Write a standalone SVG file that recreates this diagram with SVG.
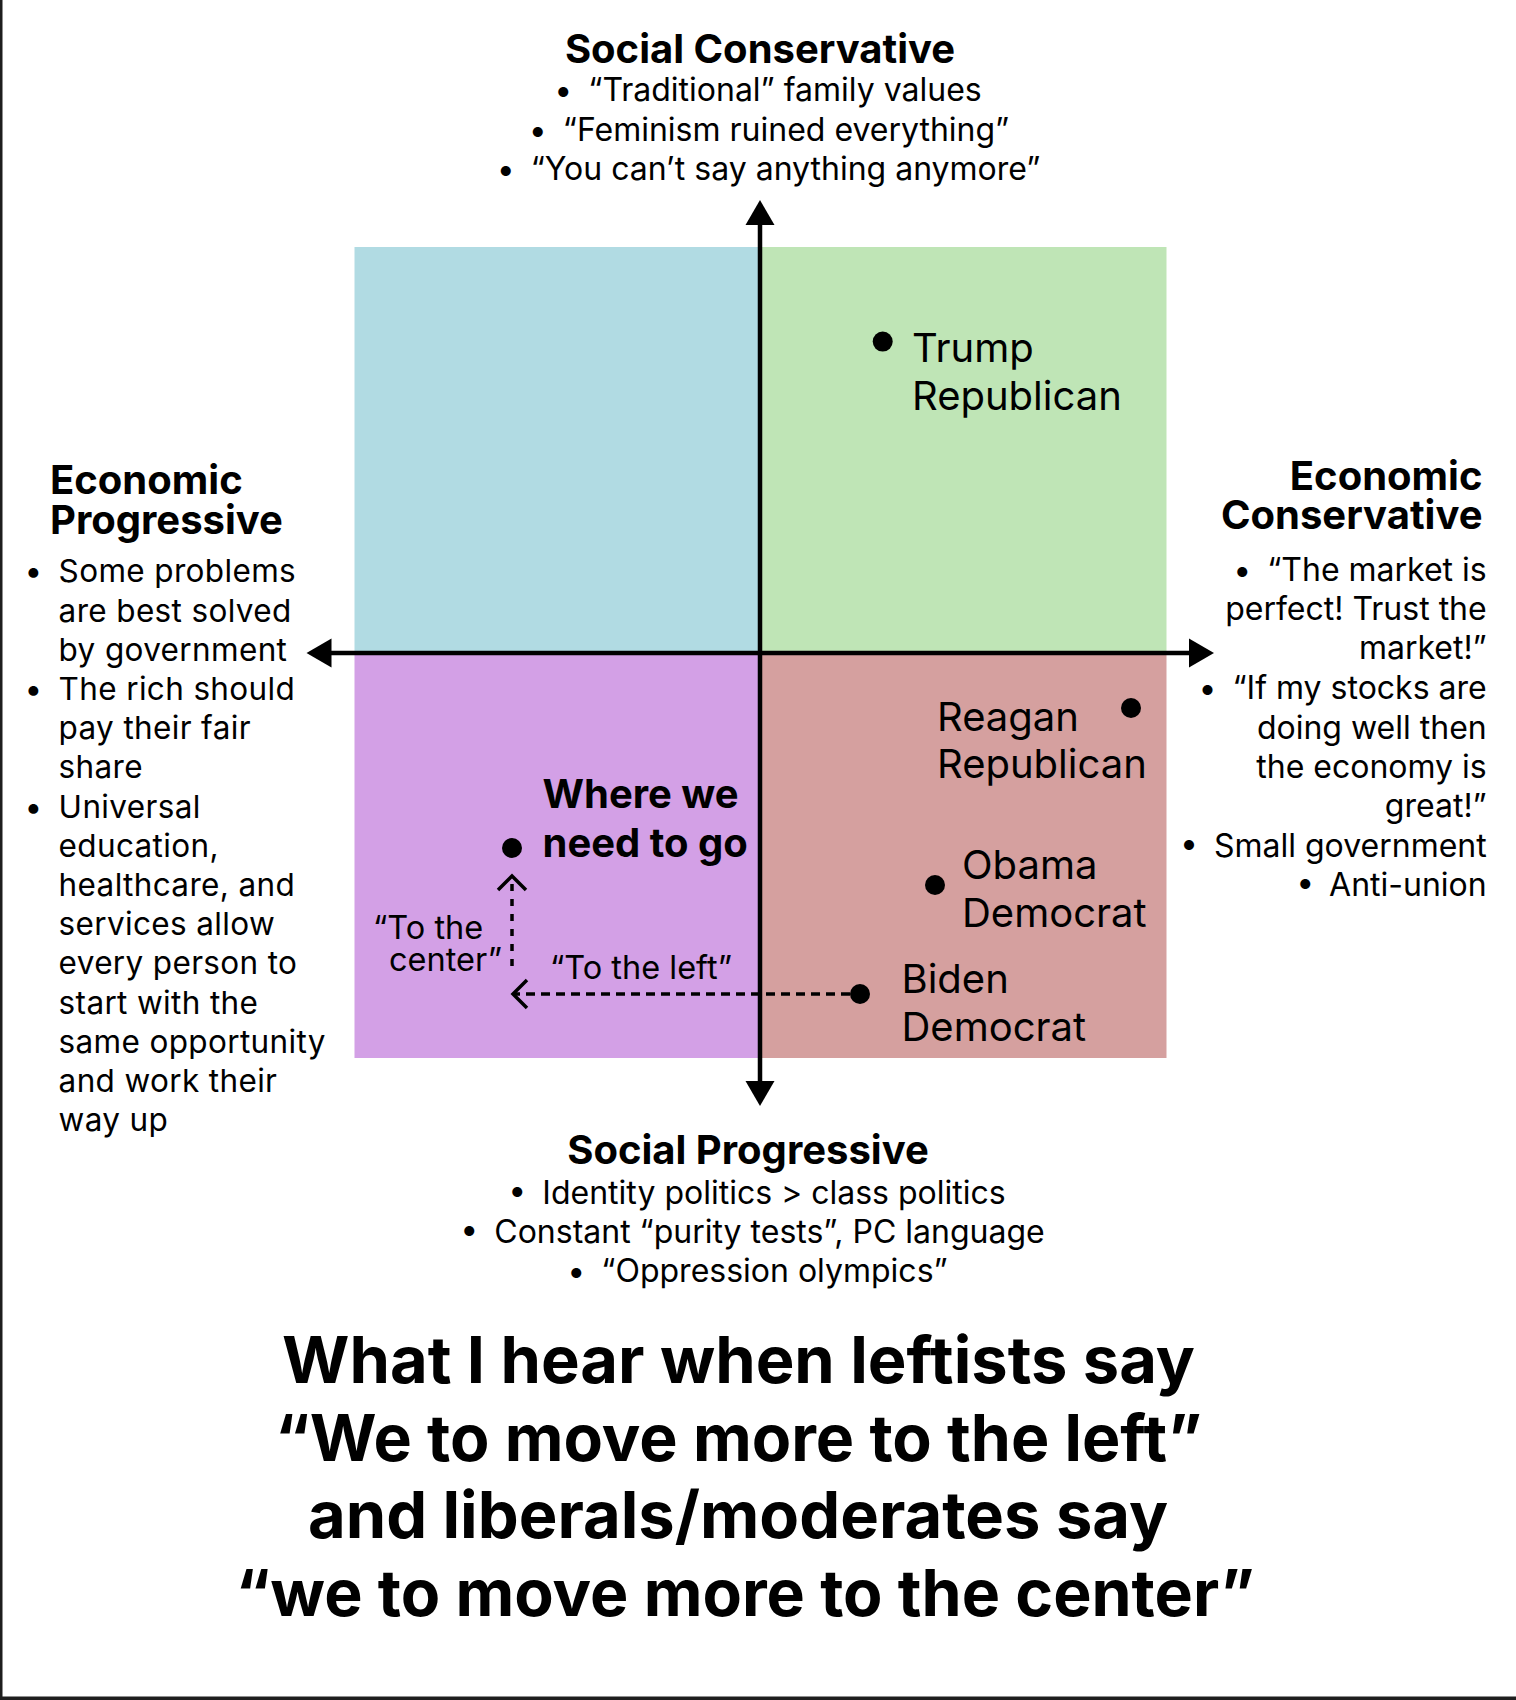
<svg xmlns="http://www.w3.org/2000/svg" width="1516" height="1700" viewBox="0 0 1516 1700">
<style>
text{font-family:Inter,"Liberation Sans",Arial,sans-serif;fill:#000}
.hd{font-weight:700;font-size:40px}
.bl{font-size:32px}
.lt{font-size:31.5px;letter-spacing:0.35px}
.lb{font-size:40px}
.sm{font-size:32.5px}
.tt{font-weight:700;font-size:65px}
.tq{font-size:64.4px}
.ax{stroke:#000;stroke-width:4.5;fill:none}
.dash{stroke:#000;stroke-width:3.5;fill:none;stroke-dasharray:9 6}
.dot{stroke:#000;stroke-width:3.5;fill:none;stroke-dasharray:7 8}
.chev{stroke:#000;stroke-width:3.5;fill:none}
</style>
<rect width="1516" height="1700" fill="#fff"/>
<rect x="0" y="0" width="2.5" height="1700" fill="#1e1e1e"/>
<rect x="0" y="1696.5" width="1516" height="3.5" fill="#1e1e1e"/>

<g id="quadrants">
<rect x="354.5" y="247" width="406" height="406" fill="#B1DBE3"/>
<rect x="760.5" y="247" width="406" height="406" fill="#BFE5B6"/>
<rect x="354.5" y="653" width="406" height="405" fill="#D3A0E6"/>
<rect x="760.5" y="653" width="406" height="405" fill="#D5A09F"/>
</g>

<g id="connectors">
<line class="ax" x1="760" y1="222" x2="760" y2="1084"/>
<polygon points="760,200 745.5,225 774.5,225"/>
<polygon points="760,1106 745.5,1081 774.5,1081"/>
<line class="ax" x1="330" y1="653" x2="1190" y2="653"/>
<polygon points="306.5,653 331.5,638.5 331.5,667.5"/>
<polygon points="1214,653 1189,638.5 1189,667.5"/>
<line class="dash" x1="850" y1="994" x2="514" y2="994"/>
<polyline class="chev" points="527,980 513,994 527,1008"/>
<line class="dot" x1="512" y1="966" x2="512" y2="880"/>
<polyline class="chev" points="498,890 512,876 526,890"/>
</g>

<g id="social-conservative">
<text class="hd" x="760" y="63" text-anchor="middle">Social Conservative</text>
<text class="bl" x="768" y="101" text-anchor="middle">•<tspan dx="16">“Traditional” family values</tspan></text>
<text class="bl" x="769" y="141" text-anchor="middle">•<tspan dx="16">“Feminism ruined everything”</tspan></text>
<text class="bl" x="768.5" y="180" text-anchor="middle">•<tspan dx="16">“You can’t say anything anymore”</tspan></text>
</g>

<g id="social-progressive">
<text class="hd" x="748" y="1164" text-anchor="middle">Social Progressive</text>
<text class="bl" x="757" y="1203.5" text-anchor="middle">•<tspan dx="16">Identity politics &gt; class politics</tspan></text>
<text class="bl" x="752.5" y="1242.5" text-anchor="middle">•<tspan dx="16">Constant “purity tests”, PC language</tspan></text>
<text class="bl" x="757.5" y="1281.5" text-anchor="middle">•<tspan dx="16">“Oppression olympics”</tspan></text>
</g>

<g id="economic-progressive">
<text class="hd" x="50" y="493.5">Economic</text>
<text class="hd" x="50" y="533.5">Progressive</text>
<text class="lt" x="33.6" y="582.3" text-anchor="middle">•</text>
<text class="lt" x="33.6" y="699.9" text-anchor="middle">•</text>
<text class="lt" x="33.6" y="817.5" text-anchor="middle">•</text>
<text class="lt" x="58.6" y="582.3">Some problems</text>
<text class="lt" x="58.6" y="621.5">are best solved</text>
<text class="lt" x="58.6" y="660.7">by government</text>
<text class="lt" x="58.6" y="699.9">The rich should</text>
<text class="lt" x="58.6" y="739.1">pay their fair</text>
<text class="lt" x="58.6" y="778.3">share</text>
<text class="lt" x="58.6" y="817.5">Universal</text>
<text class="lt" x="58.6" y="856.7">education,</text>
<text class="lt" x="58.6" y="895.9">healthcare, and</text>
<text class="lt" x="58.6" y="935.1">services allow</text>
<text class="lt" x="58.6" y="974.3">every person to</text>
<text class="lt" x="58.6" y="1013.5">start with the</text>
<text class="lt" x="58.6" y="1052.7">same opportunity</text>
<text class="lt" x="58.6" y="1091.9">and work their</text>
<text class="lt" x="58.6" y="1131.1">way up</text>
</g>

<g id="economic-conservative">
<text class="hd" x="1482.5" y="490" text-anchor="end">Economic</text>
<text class="hd" x="1482.5" y="529.2" text-anchor="end">Conservative</text>
<text class="bl" x="1486.7" y="581.2" text-anchor="end">•<tspan dx="16">“The market is</tspan></text>
<text class="bl" x="1486.7" y="620.3" text-anchor="end">perfect! Trust the</text>
<text class="bl" x="1486.7" y="659.3" text-anchor="end">market!”</text>
<text class="bl" x="1486.7" y="699.4" text-anchor="end">•<tspan dx="16">“If my stocks are</tspan></text>
<text class="bl" x="1486.7" y="738.5" text-anchor="end">doing well then</text>
<text class="bl" x="1486.7" y="777.5" text-anchor="end">the economy is</text>
<text class="bl" x="1486.7" y="816.6" text-anchor="end">great!”</text>
<text class="bl" x="1486.7" y="856.7" text-anchor="end">•<tspan dx="16">Small government</tspan></text>
<text class="bl" x="1486.7" y="895.7" text-anchor="end">•<tspan dx="16">Anti-union</tspan></text>
</g>

<g id="trump">
<circle cx="882.7" cy="341.6" r="10"/>
<text class="lb" x="912" y="362">Trump</text>
<text class="lb" x="912" y="409.5">Republican</text>
</g>
<g id="reagan">
<circle cx="1131" cy="708" r="10"/>
<text class="lb" x="937" y="730.5">Reagan</text>
<text class="lb" x="937" y="778">Republican</text>
</g>
<g id="obama">
<circle cx="935" cy="885" r="10"/>
<text class="lb" x="962" y="879">Obama</text>
<text class="lb" x="962" y="927">Democrat</text>
</g>
<g id="biden">
<circle cx="860" cy="994" r="10"/>
<text class="lb" x="901.5" y="993.3">Biden</text>
<text class="lb" x="901.5" y="1041">Democrat</text>
</g>
<g id="where-we-need-to-go">
<circle cx="512" cy="848" r="10"/>
<text class="hd" x="542.5" y="807.5">Where we</text>
<text class="hd" x="542.5" y="856.5">need to go</text>
</g>
<g id="label-left">
<text class="sm" x="641" y="979" text-anchor="middle">“To the left”</text>
</g>
<g id="label-center">
<text class="sm" x="373" y="939">“To the</text>
<text class="sm" x="502" y="970.6" text-anchor="end">center”</text>
</g>

<g id="title">
<text class="tt" x="738.5" y="1382.5" text-anchor="middle">What I hear when leftists say</text>
<text class="tt tq" x="738.5" y="1460.5" text-anchor="middle">“We to move more to the left”</text>
<text class="tt" x="738" y="1537.5" text-anchor="middle">and liberals/moderates say</text>
<text class="tt tq" x="745" y="1615.5" text-anchor="middle">“we to move more to the center”</text>
</g>
</svg>
